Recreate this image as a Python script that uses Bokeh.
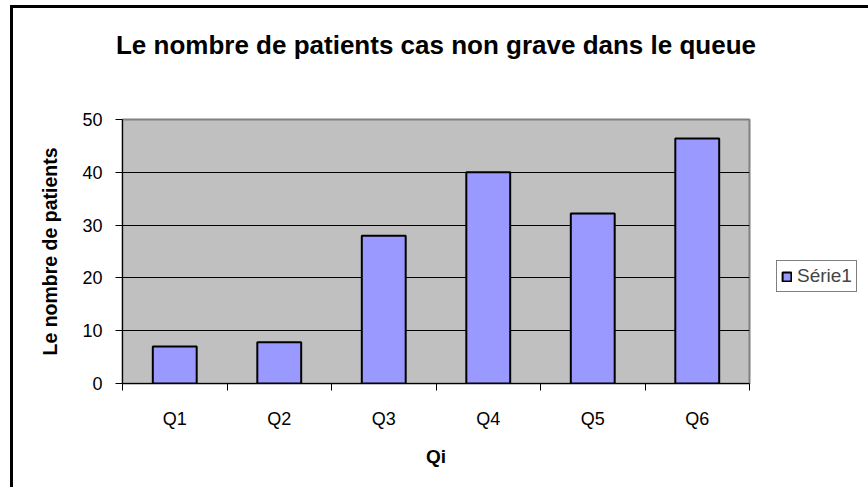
from bokeh.plotting import figure
from bokeh.models import (Range1d, FixedTicker, Legend, LegendItem, ColumnDataSource, Title)
from bokeh.embed import file_html
from bokeh.resources import INLINE

# ---- data ----
categories = ["Q1", "Q2", "Q3", "Q4", "Q5", "Q6"]
values = [7, 7.8, 28, 40, 32.2, 46.4]
y_ticks = [0, 10, 20, 30, 40, 50]
series_name = "Série1"
title_text = "Le nombre de patients cas non grave dans le queue"
x_label = "Qi"
y_label = "Le nombre de patients"

FONT = "Liberation Sans"

centers = [i + 0.5 for i in range(len(categories))]
bounds = [i for i in range(len(categories) + 1)]

bg = ("linear-gradient(#000,#000) 10px 5px / 3px 100% no-repeat, "
      "linear-gradient(#000,#000) 10px 5px / 100% 3px no-repeat, #fff")

p = figure(
    output_backend="svg", toolbar_location=None,
    frame_width=627, frame_height=264,
    min_border_left=122, min_border_right=111,
    min_border_top=119, min_border_bottom=104,
    x_range=Range1d(0, len(categories)), y_range=Range1d(0, 50),
    styles={"background": bg},
)
p.background_fill_color = "#C0C0C0"
p.border_fill_alpha = 0
p.outline_line_color = "#808080"
p.outline_line_width = 2

src = ColumnDataSource(dict(x=centers, top=values, cat=categories))
r = p.vbar(x="x", top="top", width=0.42, bottom=0, source=src,
           fill_color="#9999FF", line_color="black", line_width=2)

# grid
p.xgrid.visible = False
p.ygrid.ticker = FixedTicker(ticks=y_ticks)
p.ygrid.grid_line_color = "black"
p.ygrid.grid_line_width = 1

# y axis
ya = p.yaxis[0]
ya.ticker = FixedTicker(ticks=y_ticks)
ya.axis_line_color = "black"
ya.major_tick_line_color = "black"
ya.major_tick_in = 0
ya.major_tick_out = 7
ya.minor_tick_line_color = None
ya.major_label_text_font = FONT
ya.major_label_text_font_size = "18px"
ya.major_label_text_color = "black"
ya.major_label_standoff = 13
ya.axis_label = y_label
ya.axis_label_text_font = FONT
ya.axis_label_text_font_style = "bold"
ya.axis_label_text_font_size = "19.5px"
ya.axis_label_text_color = "black"
ya.axis_label_standoff = 18

# x axis: labels at centers, ticks at boundaries
xa = p.xaxis[0]
xa.ticker = FixedTicker(ticks=centers, minor_ticks=bounds)
xa.major_label_overrides = {c: n for c, n in zip(centers, categories)}
xa.axis_line_color = "black"
xa.major_tick_line_color = None
xa.major_tick_in = 0
xa.major_tick_out = 0
xa.minor_tick_line_color = "black"
xa.minor_tick_in = 0
xa.minor_tick_out = 7
xa.major_label_text_font = FONT
xa.major_label_text_font_size = "18px"
xa.major_label_text_color = "black"
xa.major_label_standoff = 18
xa.axis_label = x_label
xa.axis_label_text_font = FONT
xa.axis_label_text_font_style = "bold"
xa.axis_label_text_font_size = "19px"
xa.axis_label_text_color = "black"
xa.axis_label_standoff = 14

# title: a blank spacer next to the frame, then the real title above it
spacer = Title(text=" ", text_font_size="1px", text_color="white", standoff=55)
p.add_layout(spacer, "above")
main_title = Title(text=title_text, align="center", vertical_align="top",
                   text_font=FONT, text_font_size="26px", text_font_style="bold",
                   text_color="black", standoff=0)
p.add_layout(main_title, "above")

# legend
legend = Legend(items=[LegendItem(label=series_name, renderers=[r])],
                location=(27, 91))
legend.border_line_color = "black"
legend.border_line_width = 1
legend.background_fill_color = "white"
legend.background_fill_alpha = 1
legend.padding = 4
legend.margin = 0
legend.glyph_width = 11
legend.glyph_height = 11
legend.label_standoff = 5
legend.label_text_font = FONT
legend.label_text_font_size = "19px"
legend.label_height = 16
p.add_layout(legend, "right")

open("out.html", "w").write(file_html(p, INLINE))
